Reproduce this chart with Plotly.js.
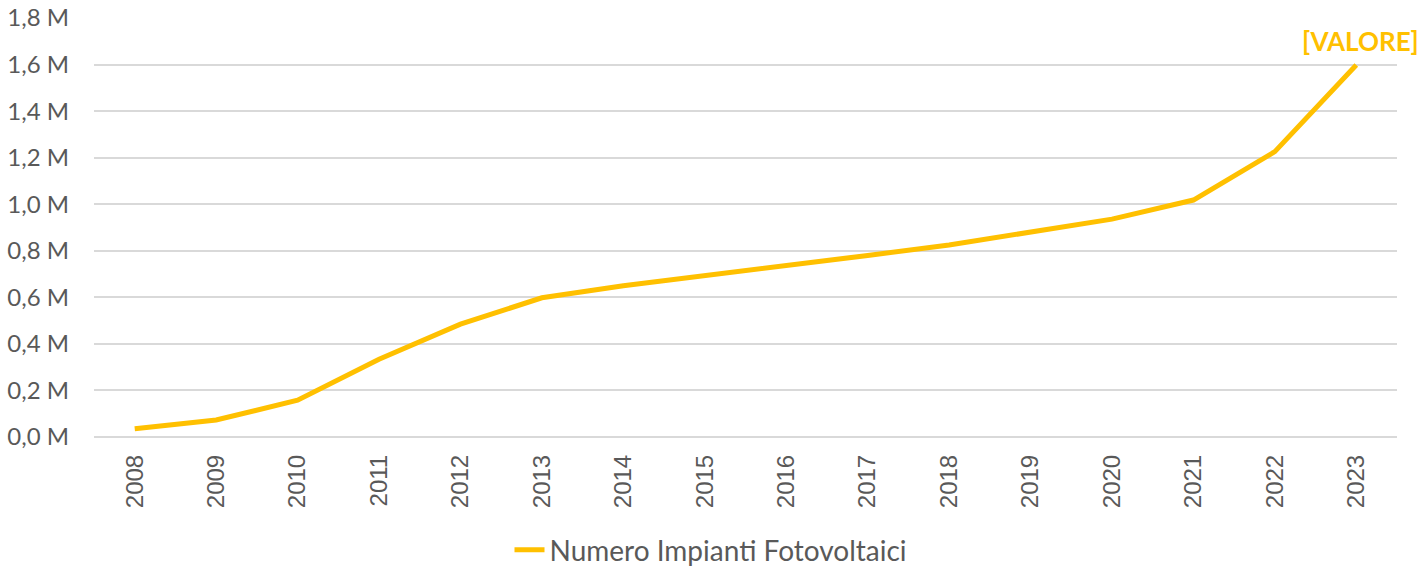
<!DOCTYPE html>
<html>
<head>
<meta charset="utf-8">
<script src="https://cdn.plot.ly/plotly-3.0.1.min.js"></script>
<style>html,body{margin:0;padding:0;background:#fff;}#chart{width:1422px;height:567px;}</style>
</head>
<body>
<div id="chart"></div>
<script>
const years = ["2008","2009","2010","2011","2012","2013","2014","2015","2016","2017","2018","2019","2020","2021","2022","2023"];
const impianti = [35000, 73000, 158000, 334000, 485000, 598000, 650000, 692000, 738000, 780000, 825000, 882000, 936000, 1018000, 1226000, 1598000];
const seriesName = "Numero Impianti Fotovoltaici";
const yTickVals = [0, 200000, 400000, 600000, 800000, 1000000, 1200000, 1400000, 1600000, 1800000];
const yTickText = ["0,0 M","0,2 M","0,4 M","0,6 M","0,8 M","1,0 M","1,2 M","1,4 M","1,6 M","1,8 M"];
const lastLabel = "[VALORE]";

const gold = "#FFC000";
const grey = "#595959";

const trace = {
  x: years, y: impianti, type: "scatter", mode: "lines", name: seriesName,
  line: {color: gold, width: 5}, hoverinfo: "skip"
};

const layout = {
  width: 1422, height: 567,
  margin: {l: 94, r: 25, t: 18, b: 130},
  paper_bgcolor: "#fff", plot_bgcolor: "#fff",
  showlegend: true,
  legend: {orientation: "h", xref: "container", yref: "container", x: 0.5, xanchor: "center", y: 0.03, yanchor: "middle",
           font: {family: "Lato, 'Open Sans', sans-serif", size: 28, color: grey}},
  xaxis: {type: "category", range: [-0.5, years.length - 0.5], tickangle: -90, showgrid: false, showline: false, zeroline: false,
          ticks: "", ticklabelstandoff: 12,
          tickfont: {family: "'Liberation Sans', Arial, sans-serif", size: 24, color: grey}},
  yaxis: {range: [0, 1800000], tickvals: yTickVals, ticktext: yTickText, showgrid: true, gridcolor: "#D9D9D9", gridwidth: 2,
          zeroline: true, zerolinecolor: "#D9D9D9", zerolinewidth: 2, showline: false, ticks: "", ticklabelstandoff: 24,
          tickfont: {family: "Lato, 'Open Sans', sans-serif", size: 24, color: grey}},
  annotations: [{x: years.length - 1, y: impianti[impianti.length-1], xref: "x", yref: "y", text: "<b>" + lastLabel + "</b>",
                 showarrow: false, yanchor: "bottom", yshift: 6, xshift: 4,
                 font: {family: "Lato, 'Open Sans', sans-serif", size: 26, color: gold}}]
};

Plotly.newPlot("chart", [trace], layout, {staticPlot: true, displayModeBar: false});
</script>
</body>
</html>
